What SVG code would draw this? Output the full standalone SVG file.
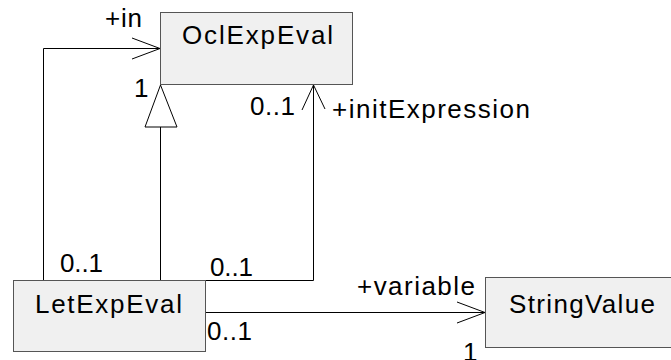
<svg xmlns="http://www.w3.org/2000/svg" width="671" height="360" viewBox="0 0 671 360">
<style>
.box{fill:#f0f0f0;stroke:#555;stroke-width:1}
.t{font-family:"Liberation Sans",Arial,sans-serif;font-size:26px;fill:#000}
.l{fill:none;stroke:#000;stroke-width:1}
</style>
<rect width="671" height="360" fill="#fff"/>
<g id="connectors">
<polyline class="l" points="43.5,280 43.5,48.5 160,48.5"/>
<polyline class="l" points="132,38 160,48.5 132,59"/>
<line class="l" x1="160.5" y1="280" x2="160.5" y2="127"/>
<polygon points="160.5,85 145,127 177,127" fill="#fff" stroke="#000" stroke-width="1"/>
<polyline class="l" points="205,280.5 313.5,280.5 313.5,85"/>
<polyline class="l" points="302,110 313.5,85 325,109"/>
<line class="l" x1="205" y1="312.5" x2="485" y2="312.5"/>
<polyline class="l" points="457,302 485,312.5 457,323"/>
<text class="t" x="105" y="27" textLength="37" lengthAdjust="spacing">+in</text>
<text class="t" x="134" y="97">1</text>
<text class="t" x="250" y="115" textLength="45" lengthAdjust="spacing">0..1</text>
<text class="t" x="332" y="118" textLength="198" lengthAdjust="spacing">+initExpression</text>
<text class="t" x="60" y="272" textLength="43" lengthAdjust="spacing">0..1</text>
<text class="t" x="210" y="276" textLength="43" lengthAdjust="spacing">0..1</text>
<text class="t" x="207" y="340" textLength="45" lengthAdjust="spacing">0..1</text>
<text class="t" x="357" y="295" textLength="118" lengthAdjust="spacing">+variable</text>
<text class="t" x="463" y="361">1</text>
</g>
<g id="OclExpEval">
<rect class="box" x="160.5" y="12.5" width="192" height="72"/>
<text class="t" x="182" y="44" textLength="151" lengthAdjust="spacing">OclExpEval</text>
</g>
<g id="LetExpEval">
<rect class="box" x="13.5" y="280.5" width="192" height="71"/>
<text class="t" x="35" y="313" textLength="147" lengthAdjust="spacing">LetExpEval</text>
</g>
<g id="StringValue">
<rect class="box" x="485.5" y="277.5" width="192" height="70"/>
<text class="t" x="509" y="313" textLength="146" lengthAdjust="spacing">StringValue</text>
</g>
</svg>
